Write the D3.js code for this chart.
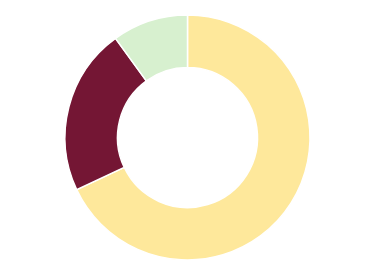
<!DOCTYPE html>
<html>
<head>
<meta charset="utf-8">
<script src="https://cdn.jsdelivr.net/npm/d3@7"></script>
<style>
  html, body { margin: 0; padding: 0; background: #fff; }
</style>
</head>
<body>
<div id="chart"></div>
<script>
// 数据
const categories = ["A", "B", "C"];
const values = [68, 22, 10];
const colors = ["#fee89b", "#741634", "#d7f0cf"];

// 画布设置
const width = 375, height = 276;
const outerR = 122.5, innerR = 70;

const svg = d3.select("#chart")
    .append("svg")
    .attr("width", width)
    .attr("height", height);

const g = svg.append("g")
    .attr("transform", `translate(${width / 2},${137.5})`);

const color = d3.scaleOrdinal()
    .domain(categories)
    .range(colors);

const pie = d3.pie()
    .sort(null)
    .value(d => d.value);

const arc = d3.arc()
    .innerRadius(innerR)
    .outerRadius(outerR);

const data = categories.map((c, i) => ({name: c, value: values[i]}));

g.selectAll("path")
    .data(pie(data))
    .join("path")
    .attr("d", arc)
    .attr("fill", d => color(d.data.name))
    .attr("stroke", "#fff")
    .attr("stroke-width", 1.5);
</script>
</body>
</html>
